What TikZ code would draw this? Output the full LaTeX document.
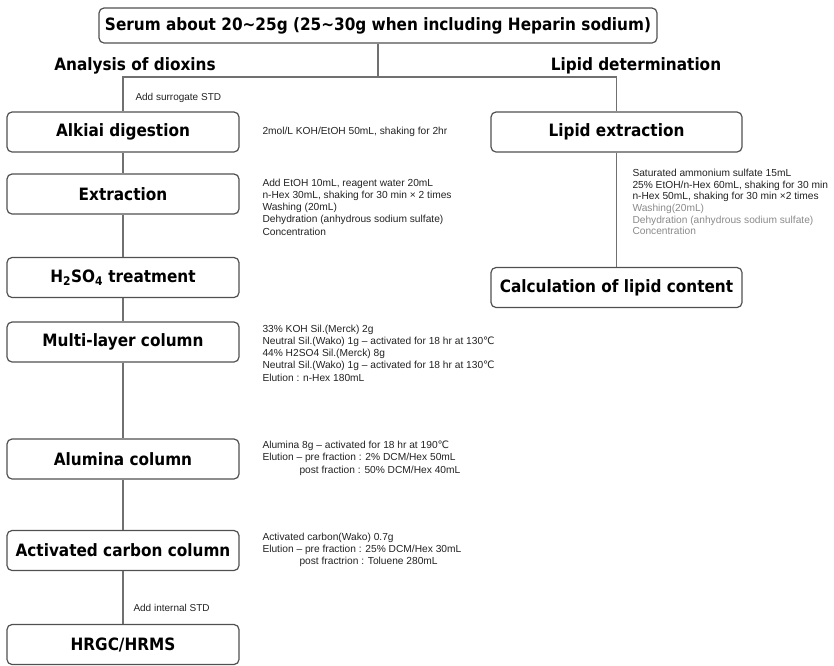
\documentclass[tikz,border=0pt]{standalone}
\usepackage{fontspec}
\setmainfont{Liberation Sans}
\newfontfamily\headfont{DejaVu Sans Condensed Bold}
\newfontfamily\symfont{DejaVu Sans}
\usetikzlibrary{positioning}
\definecolor{cbox}{HTML}{505050}
\definecolor{cline}{HTML}{707070}
\definecolor{cnote}{HTML}{222222}
\definecolor{cfade}{HTML}{8A8A8A}
\newcommand{\degc}{{\symfont ℃}}
\tikzset{
  every picture/.style={line width=1pt},
  stage/.style={draw=cbox, line width=1.2pt, rounded corners=5pt, minimum width=232pt, minimum height=40pt, inner sep=0pt, font=\headfont\fontsize{17}{19}\selectfont},
  link/.style={draw=cline, line width=1.1pt},
  branch/.style={font=\headfont\fontsize{17}{19}\selectfont},
  note/.style={anchor=west, align=left, inner sep=0pt, text=cnote, font=\fontsize{10.2}{12.3}\selectfont},
  tag/.style={anchor=west, inner sep=0pt, text=cnote, font=\fontsize{10}{12}\selectfont},
}

\begin{document}
\begin{tikzpicture}[x=1pt, y=-1pt]
  \useasboundingbox (0,0) rectangle (834,665);
  % sample and the two branches
  \node[stage, minimum width=558pt, minimum height=35pt] (serum) at (378,25.5) {Serum about 20\textasciitilde25g (25\textasciitilde30g when including Heparin sodium)};
  \node[branch] (diox) at (135,66) {Analysis of dioxins};
  \node[branch] (lipdet) at (636,66) {Lipid determination};
  \coordinate (split) at (378,77);
  \coordinate (jl) at (123,77);
  \coordinate (jr) at (616.5,77);
  % dioxin clean-up steps
  \foreach \n/\y/\t in {alk/132/{Alkiai digestion}, ext/194/{Extraction}, acid/277.5/{H\textsubscript{2}SO\textsubscript{4} treatment}, multi/342/{Multi-layer column}, alum/459/{Alumina column}, carb/550.5/{Activated carbon column}, hrgc/644.5/{HRGC/HRMS}}
    \node[stage] (\n) at (123,\y) {\t};
  % lipid steps
  \node[stage, minimum width=251pt] (lipx) at (616.5,132) {Lipid extraction};
  \node[stage, minimum width=251pt] (calc) at (616.5,287.5) {Calculation of lipid content};
  % connectors
  \draw[link] (serum) -- (split);
  \draw[link] (alk) -- (jl) -- (jr) -- (lipx);
  \foreach \a/\b in {alk/ext, ext/acid, acid/multi, multi/alum, alum/carb, carb/hrgc}
    \draw[link] (\a) -- (\b);
  \draw[link] (lipx) -- (calc);
  % standards
  \node[tag] (surr) at (135,98) {Add surrogate STD};
  \node[tag] (istd) at (133,608) {Add internal STD};
  % conditions
  \node[note] (n1) at (262,132) {2mol/L KOH/EtOH 50mL, shaking for 2hr};
  \node[note] (n2) at (262,207) {Add EtOH 10mL, reagent water 20mL\\ n-Hex 30mL, shaking for 30 min × 2 times\\ Washing (20mL)\\ Dehydration (anhydrous sodium sulfate)\\ Concentration};
  \node[note] (n3) at (262,353) {33\% KOH Sil.(Merck) 2g\\ Neutral Sil.(Wako) 1g – activated for 18 hr at 130\degc\\ 44\% H2SO4 Sil.(Merck) 8g\\ Neutral Sil.(Wako) 1g – activated for 18 hr at 130\degc\\ Elution : n-Hex 180mL};
  \node[note] (n4) at (262,458) {Alumina 8g – activated for 18 hr at 190\degc\\ Elution – pre fraction : 2\% DCM/Hex 50mL\\ \hspace*{37pt}post fraction : 50\% DCM/Hex 40mL};
  \node[note] (n5) at (262,550) {Activated carbon(Wako) 0.7g\\ Elution – pre fraction : 25\% DCM/Hex 30mL\\ \hspace*{37pt}post fractrion : Toluene 280mL};
  \node[note, font=\fontsize{10.2}{11.6}\selectfont] (n6) at (632,202) {Saturated ammonium sulfate 15mL\\ 25\% EtOH/n-Hex 60mL, shaking for 30 min\\ n-Hex 50mL, shaking for 30 min ×2 times\\ \textcolor{cfade}{Washing(20mL)}\\ \textcolor{cfade}{Dehydration (anhydrous sodium sulfate)}\\ \textcolor{cfade}{Concentration}};
\end{tikzpicture}
\end{document}
